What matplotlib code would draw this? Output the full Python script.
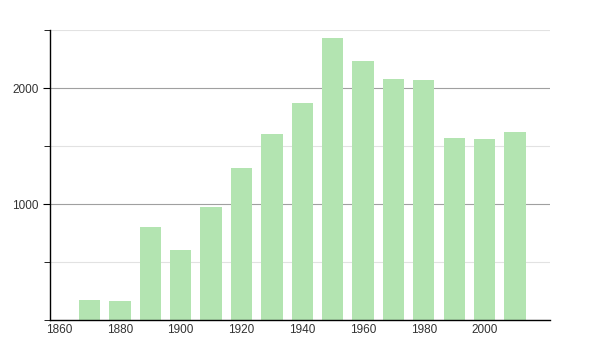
import numpy as np
import matplotlib
matplotlib.use("Agg")
import matplotlib.pyplot as plt
from matplotlib.ticker import MultipleLocator

plt.rcParams['font.family'] = ['Liberation Sans', 'DejaVu Sans']

years = [1870, 1880, 1890, 1900, 1910, 1920, 1930, 1940, 1950, 1960, 1970, 1980, 1990, 2000, 2010]
population = [175, 166, 804, 606, 977, 1310, 1603, 1873, 2431, 2233, 2080, 2069, 1572, 1563, 1623]
xticks = [1860, 1880, 1900, 1920, 1940, 1960, 1980, 2000]
yticks = [1000, 2000]

fig = plt.figure(figsize=(6, 3.5), dpi=100)
ax = fig.add_axes([50/600, 29.7/350, 500/600, 290.3/350])

ax.bar(years, population, width=7, color="#b3e4b1", zorder=2)

ax.set_xlim(1857, 2021.5)
ax.set_ylim(0, 2500)
ax.set_xticks(xticks)
ax.set_yticks(yticks)
ax.yaxis.set_minor_locator(MultipleLocator(500))

ax.grid(axis="y", which="major", color="#a0a0a0", lw=0.8, zorder=1)
ax.grid(axis="y", which="minor", color="#e2e2e2", lw=0.8, zorder=1)

for s in ["top", "right"]:
    ax.spines[s].set_visible(False)
ax.spines["left"].set_linewidth(1)
ax.spines["bottom"].set_linewidth(1)

ax.tick_params(axis="x", length=0, labelsize=8.5, labelcolor="#333333", pad=3)
ax.tick_params(axis="y", which="major", length=5, labelsize=8.5, labelcolor="#333333", pad=3)
ax.tick_params(axis="y", which="minor", length=4)

fig.savefig("out.png", dpi=100)
